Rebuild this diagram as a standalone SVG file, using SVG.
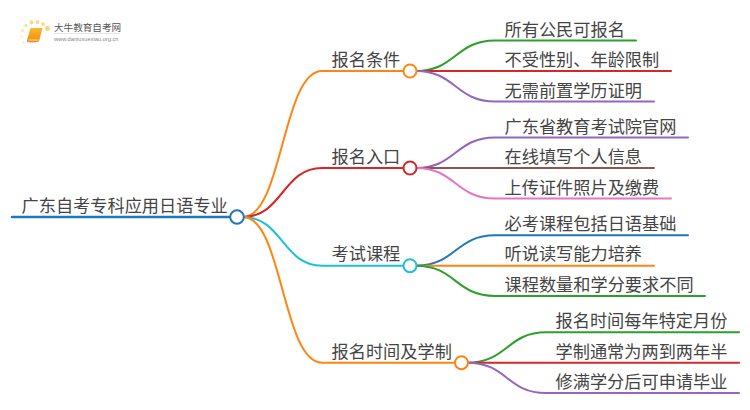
<svg xmlns="http://www.w3.org/2000/svg" width="750" height="410" viewBox="0 0 750 410">
<defs><linearGradient id="bk" x1="0" y1="0" x2="0" y2="1"><stop offset="0" stop-color="#fbb82e"/><stop offset="1" stop-color="#f08a12"/></linearGradient></defs>
<style>
text{font-family:"Noto Sans CJK SC","Noto Sans CJK JP",sans-serif;fill:#444}
.c{font-size:17.200px}
.d{stroke:none}
path.l{fill:none;stroke-width:2;stroke-linecap:round}
circle{fill:#fff;stroke-width:2}
</style>
<rect width="750" height="410" fill="#fff"/>
<g id="logo">
<circle class="d" cx="47.500" cy="28.500" r="2.400" style="fill:#fcd26e"/><circle class="d" cx="43" cy="24" r="1.900" style="fill:#fcd98a"/><circle class="d" cx="37.500" cy="22" r="1.900" style="fill:#fcd98a"/><circle class="d" cx="31.500" cy="22.500" r="1.900" style="fill:#fcd98a"/><circle class="d" cx="26" cy="25.500" r="1.700" style="fill:#fde0a0"/><circle class="d" cx="22.500" cy="30.500" r="1.500" style="fill:#fde6b4"/><circle class="d" cx="21.500" cy="36.500" r="1.300" style="fill:#feecc6"/><circle class="d" cx="23.500" cy="42.500" r="1.200" style="fill:#feecc6"/>
<path d="M30.500 28H42.500L39 41.500Q33 43 27.500 42Q26.500 41.500 27 40Z" fill="url(#bk)"/><path d="M28.500 40H38.500" stroke="#fde3b5" stroke-width="1" fill="none"/>
<text x="54" y="31" style="font-size:9.600px;fill:#555">大牛教育自考网</text>
<path d="M54 33.500H120" stroke="#ddd" stroke-width=".7" fill="none"/>
<text x="54" y="41" style="font-size:5.700px;font-family:'Liberation Sans',sans-serif;fill:#888">www.daniuxuexiao.org.cn</text>
</g>
<g id="connectors">
<path class="l" style="stroke-width:2.500" stroke="#1f78b9" d="M12 217H237"/>
<path class="l" stroke="#ff8412" d="M243 217C282.500 217 282.500 71 322 71H410"/>
<path class="l" stroke="#d62728" d="M243 217C282.500 217 282.500 168 322 168H410"/>
<path class="l" stroke="#1cc0d8" d="M243 217C282.500 217 282.500 265.700 322 265.700H410"/>
<path class="l" stroke="#ff8412" d="M243 217C282.500 217 282.500 362.700 322 362.700H461.500"/>
<path class="l" stroke="#2ca02c" d="M416 71C455.500 71 455.500 40.500 495 40.500H636"/>
<path class="l" stroke="#d62728" d="M416 71H671"/>
<path class="l" stroke="#9467bd" d="M416 71C455.500 71 455.500 101.500 495 101.500H654"/>
<path class="l" stroke="#9467bd" d="M416 168C455.500 168 455.500 137.500 495 137.500H688"/>
<path class="l" stroke="#8c564b" d="M416 168H654"/>
<path class="l" stroke="#e377c2" d="M416 168C455.500 168 455.500 198.500 495 198.500H671"/>
<path class="l" stroke="#1f78b9" d="M416 265.700C455.500 265.700 455.500 235.300 495 235.300H688"/>
<path class="l" stroke="#ff8412" d="M416 265.700H654"/>
<path class="l" stroke="#2ca02c" d="M416 265.700C455.500 265.700 455.500 296 495 296H705"/>
<path class="l" stroke="#2ca02c" d="M467.500 362.700C507 362.700 507 332.300 546 332.300H739"/>
<path class="l" stroke="#d62728" d="M467.500 362.700H739"/>
<path class="l" stroke="#9467bd" d="M467.500 362.700C507 362.700 507 393 546 393H739"/>
</g>
<g id="root"><circle cx="237" cy="217" r="6.800" stroke="#1f78b9"/><text class="c" x="21.500" y="212">广东自考专科应用日语专业</text></g>
<g id="b1"><circle cx="410" cy="71" r="6.500" stroke="#ff8412"/><text class="c" x="331.500" y="66">报名条件</text></g>
<g id="b2"><circle cx="410" cy="168" r="6.500" stroke="#d62728"/><text class="c" x="331.500" y="163">报名入口</text></g>
<g id="b3"><circle cx="410" cy="265.700" r="6.500" stroke="#1cc0d8"/><text class="c" x="331.500" y="260">考试课程</text></g>
<g id="b4"><circle cx="461.500" cy="362.700" r="6.500" stroke="#ff8412"/><text class="c" x="331.500" y="357.500">报名时间及学制</text></g>
<g id="n11"><text class="c" x="504.500" y="35.500">所有公民可报名</text></g>
<g id="n12"><text class="c" x="504.500" y="66">不受性别、年龄限制</text></g>
<g id="n13"><text class="c" x="504.500" y="96.500">无需前置学历证明</text></g>
<g id="n21"><text class="c" x="504.500" y="132.500">广东省教育考试院官网</text></g>
<g id="n22"><text class="c" x="504.500" y="163">在线填写个人信息</text></g>
<g id="n23"><text class="c" x="504.500" y="193.500">上传证件照片及缴费</text></g>
<g id="n31"><text class="c" x="504.500" y="230">必考课程包括日语基础</text></g>
<g id="n32"><text class="c" x="504.500" y="260">听说读写能力培养</text></g>
<g id="n33"><text class="c" x="504.500" y="291">课程数量和学分要求不同</text></g>
<g id="n41"><text class="c" x="555.500" y="327">报名时间每年特定月份</text></g>
<g id="n42"><text class="c" x="555.500" y="357.500">学制通常为两到两年半</text></g>
<g id="n43"><text class="c" x="555.500" y="388">修满学分后可申请毕业</text></g>
</svg>
